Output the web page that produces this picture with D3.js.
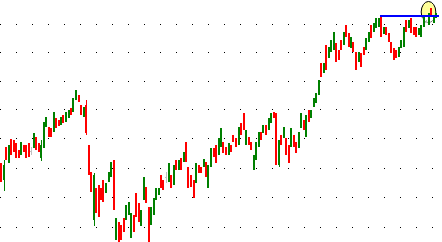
<!DOCTYPE html>
<meta charset="utf-8">
<head>
<script src="https://d3js.org/d3.v7.min.js"></script>
<style>
  body { margin: 0; background: #fff; }
  svg { display: block; }
</style>
</head>
<body>
<svg id="chart" width="442" height="242"></svg>
<script>
// daily candles
var opens = [9916,9858,9970,9916,9997,9993,9983,9960,9943,9976,
  9976,9983,9956,9966,10004,9983,9933,9966,10039,10039,
  10035,10021,10070,10063,10046,10081,10056,10070,10105,10091,
  10133,10151,10116,10074,10116,9976,9885,9724,9831,9842,
  9831,9858,9815,9852,9869,9926,9656,9717,9707,9730,
  9724,9741,9663,9741,9815,9781,9703,9791,9835,9767,
  9707,9741,9791,9808,9875,9858,9869,9852,9875,9842,
  9926,9892,9933,9919,9986,9902,9875,9858,9848,9909,
  9902,9902,9919,9831,9902,9966,9976,9943,9970,9986,
  9970,9943,9976,10011,10000,9976,10053,10088,9976,10004,
  9986,9892,9926,9970,10021,10018,10046,10028,10053,10091,
  10088,9909,10011,10000,10000,9976,9970,10011,9986,9966,
  10035,10063,10004,10098,10070,10109,10123,10151,10263,10228,
  10326,10280,10301,10308,10333,10308,10343,10326,10396,10368,
  10315,10336,10301,10266,10298,10319,10308,10336,10396,10371,
  10385,10389,10424,10364,10389,10368,10336,10315,10308,10284,
  10315,10319,10413,10385,10420,10389,10389,10361,10354,10389,
  10406,10396,10459,10403,10420];

var closes = [9852,9909,9926,9976,9943,9953,9933,9933,9986,9953,
  9933,9936,9956,10018,9960,9953,9976,10056,10074,10004,
  10004,10091,10035,10042,10074,10053,10091,10098,10081,10140,
  10168,10126,10081,10109,10018,9875,9818,9875,9747,9734,
  9791,9784,9848,9885,9919,9757,9730,9650,9656,9683,
  9774,9784,9747,9683,9734,9717,9757,9869,9781,9650,
  9767,9798,9831,9831,9831,9825,9869,9916,9831,9909,
  9892,9926,9892,9953,9919,9831,9835,9798,9916,9882,
  9882,9929,9869,9909,9966,9936,9916,10000,10035,9949,
  9943,9983,9953,9986,9970,10039,10011,10028,10028,9976,
  9960,9943,9986,10021,9993,10046,10011,10070,10088,10070,
  9909,9993,9976,10039,9943,9916,10035,9970,9949,10021,
  10088,10028,10081,10056,10098,10140,10158,10203,10214,10263,
  10238,10319,10343,10371,10266,10273,10308,10371,10354,10319,
  10354,10301,10238,10301,10249,10291,10350,10371,10350,10403,
  10420,10420,10354,10389,10361,10336,10298,10273,10280,10319,
  10343,10389,10371,10413,10368,10361,10354,10385,10396,10424,
  10406,10438,10424,10431,10438];

var highs = [9916,9926,9970,9976,9997,9993,9983,9960,9986,9976,
  9976,9983,9970,10018,10004,9983,9993,10056,10074,10039,
  10035,10091,10070,10063,10074,10081,10091,10098,10105,10140,
  10168,10151,10116,10109,10133,9976,9885,9882,9831,9842,
  9831,9858,9848,9885,9919,9926,9730,9717,9707,9730,
  9774,9784,9747,9741,9815,9781,9757,9869,9835,9767,
  9767,9798,9831,9831,9875,9858,9885,9916,9875,9909,
  9926,9926,9933,9953,9986,9902,9875,9858,9916,9909,
  9902,9929,9919,9909,9966,9966,9976,10000,10035,9986,
  9970,9983,9976,10011,10000,10039,10053,10088,10028,10004,
  9986,9943,9986,10021,10021,10046,10046,10070,10088,10091,
  10088,9993,10011,10039,10000,9976,10035,10011,9986,10021,
  10088,10063,10081,10098,10098,10140,10158,10203,10263,10263,
  10326,10319,10343,10371,10333,10308,10343,10371,10396,10368,
  10354,10336,10301,10301,10298,10319,10350,10371,10396,10403,
  10420,10420,10427,10389,10389,10368,10336,10315,10308,10319,
  10343,10389,10413,10413,10420,10389,10389,10385,10396,10424,
  10413,10438,10459,10431,10438];

var lows = [9852,9821,9926,9916,9943,9953,9933,9933,9943,9953,
  9933,9936,9943,9966,9960,9953,9922,9966,10039,10004,
  10004,10021,10035,10042,10046,10053,10056,10070,10081,10091,
  10133,10126,10081,10074,10011,9875,9818,9703,9747,9734,
  9791,9784,9815,9852,9869,9757,9656,9650,9656,9683,
  9724,9741,9663,9683,9734,9717,9703,9791,9781,9650,
  9707,9741,9791,9808,9831,9825,9848,9852,9831,9842,
  9892,9892,9892,9919,9919,9831,9835,9798,9848,9882,
  9882,9902,9869,9831,9902,9936,9916,9943,9970,9949,
  9943,9943,9953,9986,9970,9976,10011,10028,9976,9976,
  9960,9892,9926,9970,9993,10018,10011,10028,10053,10070,
  9909,9902,9976,10000,9943,9916,9970,9970,9949,9966,
  10035,10028,10004,10056,10070,10109,10123,10151,10214,10228,
  10238,10280,10301,10308,10266,10273,10308,10326,10354,10319,
  10315,10301,10238,10266,10249,10291,10308,10336,10350,10371,
  10385,10389,10354,10364,10361,10336,10298,10273,10280,10284,
  10315,10319,10371,10385,10368,10361,10354,10361,10354,10389,
  10403,10396,10424,10403,10420];

var priceTicks = [9700, 9800, 9900, 10000, 10100, 10200, 10300, 10400];
var resistance = { from: 152, level: 10427 };
var alert = { at: 171, level: 10443 };

var svg = d3.select("#chart"),
    width = +svg.attr("width"),
    height = +svg.attr("height");

var n = opens.length;
var x = d3.scaleLinear().domain([0, n - 1]).range([1, 436]);
var y = d3.scaleLog().domain([9650.2, 10486]).range([height, 0]);

// dotted grid
var gridX = d3.range(0, width, 16);
var dots = [];
priceTicks.forEach(function(t) {
  gridX.forEach(function(gx) { dots.push([gx, Math.round(y(t))]); });
});
svg.append("g")
  .selectAll("rect")
  .data(dots)
  .enter().append("rect")
  .attr("x", function(d) { return d[0]; })
  .attr("y", function(d) { return d[1]; })
  .attr("width", 1)
  .attr("height", 1)
  .attr("fill", "#000");

// alert marker
var ax = x(alert.at), ay = y(alert.level), lineY = Math.round(y(resistance.level));
svg.append("clipPath").attr("id", "above")
  .append("rect").attr("x", 0).attr("y", 0).attr("width", width).attr("height", lineY);
svg.append("clipPath").attr("id", "below")
  .append("rect").attr("x", 0).attr("y", lineY).attr("width", width).attr("height", height);
svg.append("ellipse")
  .attr("cx", ax).attr("cy", ay).attr("rx", 7.3).attr("ry", 10.5)
  .attr("fill", "#ffff99").attr("stroke", "#000").attr("stroke-width", 1)
  .attr("clip-path", "url(#above)");
svg.append("ellipse")
  .attr("cx", ax).attr("cy", ay).attr("rx", 7.3).attr("ry", 10.5)
  .attr("fill", "none").attr("stroke", "#000").attr("stroke-width", 1)
  .attr("stroke-dasharray", "1,1")
  .attr("clip-path", "url(#below)");

function colorOf(i) {
  if (closes[i] > opens[i]) return "#008000";
  if (closes[i] < opens[i]) return "#ff0000";
  return "#c0c0c0";
}

var candles = svg.append("g").attr("shape-rendering", "crispEdges")
  .selectAll("g")
  .data(d3.range(n))
  .enter().append("g");

candles.append("rect")
  .attr("x", function(i) { return Math.round(x(i)); })
  .attr("y", function(i) { return Math.round(y(highs[i])); })
  .attr("width", 1)
  .attr("height", function(i) { return Math.max(1, Math.round(y(lows[i])) - Math.round(y(highs[i]))); })
  .attr("fill", colorOf);

candles.append("rect")
  .attr("x", function(i) { return Math.round(x(i)) - 1; })
  .attr("y", function(i) { return Math.round(y(Math.max(opens[i], closes[i]))); })
  .attr("width", 2)
  .attr("height", function(i) {
    return Math.max(1, Math.round(y(Math.min(opens[i], closes[i]))) - Math.round(y(Math.max(opens[i], closes[i]))));
  })
  .attr("fill", colorOf);

// resistance line from the earlier high
svg.append("line")
  .attr("x1", Math.round(x(resistance.from)) - 1)
  .attr("x2", 439)
  .attr("y1", lineY)
  .attr("y2", lineY)
  .attr("stroke", "#0000ff")
  .attr("stroke-width", 2);
</script>
</body>
